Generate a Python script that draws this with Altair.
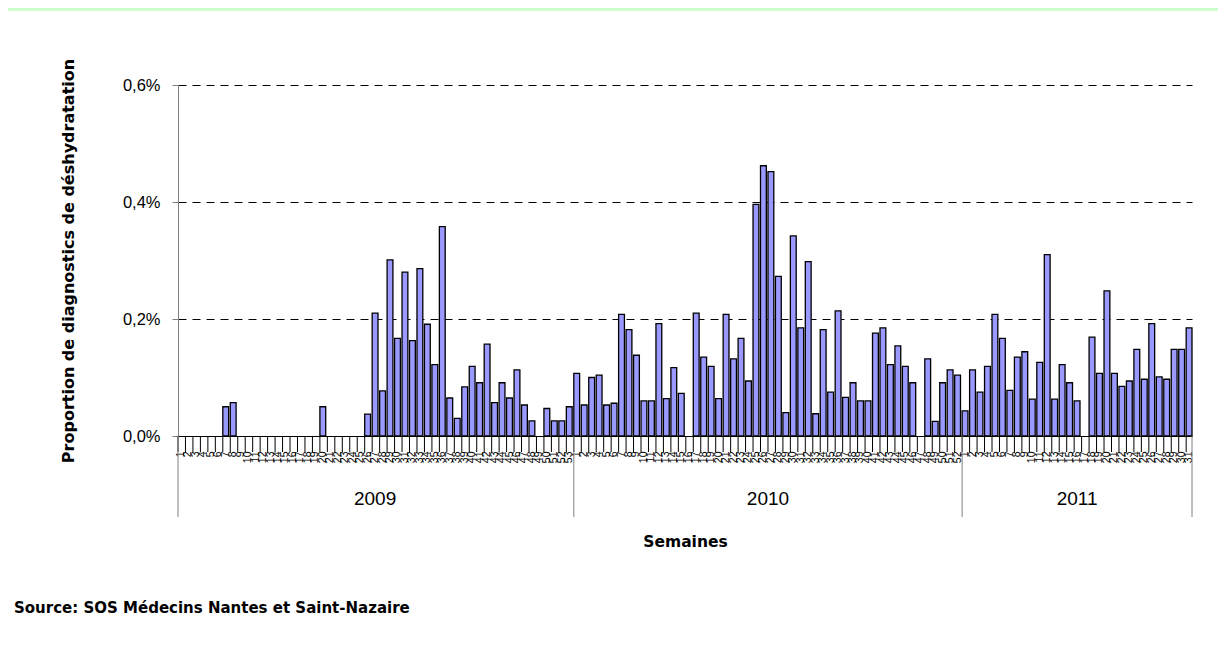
import altair as alt
import pandas as pd

years = ["2009", "2010", "2011"]

v2009 = [0, 0, 0, 0, 0, 0, 0.050, 0.057, 0, 0,
         0, 0, 0, 0, 0, 0, 0, 0, 0, 0.050,
         0, 0, 0, 0, 0, 0.0375, 0.210, 0.077, 0.301, 0.167,
         0.280, 0.163, 0.286, 0.191, 0.122, 0.358, 0.065, 0.030, 0.084, 0.119,
         0.091, 0.157, 0.057, 0.091, 0.065, 0.113, 0.053, 0.026, 0, 0.047,
         0.026, 0.026, 0.050]
v2010 = [0.107, 0.053, 0.100, 0.104, 0.053, 0.056, 0.208, 0.182, 0.138, 0.060,
         0.060, 0.192, 0.064, 0.117, 0.073, 0, 0.210, 0.135, 0.119, 0.064,
         0.208, 0.132, 0.167, 0.094, 0.396, 0.462, 0.452, 0.273, 0.040, 0.342,
         0.185, 0.298, 0.038, 0.182, 0.075, 0.214, 0.066, 0.091, 0.060, 0.060,
         0.176, 0.185, 0.122, 0.154, 0.119, 0.091, 0, 0.132, 0.025, 0.091,
         0.113, 0.104]
v2011 = [0.043, 0.113, 0.075, 0.119, 0.208, 0.167, 0.078, 0.135, 0.144, 0.063,
         0.126, 0.310, 0.063, 0.122, 0.091, 0.060, 0, 0.169, 0.107, 0.248,
         0.107, 0.085, 0.094, 0.148, 0.097, 0.192, 0.101, 0.097, 0.148, 0.148,
         0.185]

y_ticks = [0, 0.2, 0.4, 0.6]
y_title = "Proportion de diagnostics de déshydratation"
x_title = "Semaines"
source_text = "Source: SOS Médecins Nantes et Saint-Nazaire"

FONT = "Liberation Sans"
BOLD_FONT = "DejaVu Sans"
W, H = 1014, 351

rows = []
for yr, vals in zip(years, [v2009, v2010, v2011]):
    for w, v in enumerate(vals, start=1):
        rows.append({"key": f"{yr}-{w:02d}", "year": yr, "week": w, "value": v})
df = pd.DataFrame(rows)
keys = list(df["key"])

xscale = alt.Scale(domain=keys, paddingInner=0.22, paddingOuter=0)

bars = alt.Chart(df).transform_filter("datum.value > 0").mark_bar(
    fill="#9999FF", stroke="black", strokeWidth=1.3
).encode(
    x=alt.X("key:O", sort=keys, scale=xscale,
            axis=alt.Axis(
                title=x_title, titleFont=BOLD_FONT, titleFontSize=15.5, titleFontWeight="bold",
                titleColor="black", titleY=105, titleBaseline="middle",
                labelExpr="toNumber(slice(datum.label, 5))",
                labelAngle=270, labelFont=FONT, labelFontSize=10.5, labelColor="black",
                labelPadding=15, labelOverlap=False, labelBound=False, labelFlush=False,
                ticks=False, tickSize=0, domainColor="black", domainWidth=1)),
    y=alt.Y("value:Q", scale=alt.Scale(domain=[0, 0.6], nice=False),
            axis=alt.Axis(
                values=y_ticks, title=y_title, titleFont=BOLD_FONT, titleFontSize=16,
                titleFontWeight="bold", titleColor="black", titleAngle=270,
                titleX=-110, titleY=H / 2, titleAlign="center", titleBaseline="middle",
                labelExpr="replace(format(datum.value, '.1f'), '.', ',') + '%'",
                labelFont=FONT, labelFontSize=16.5, labelColor="black", labelPadding=12,
                tickSize=6, tickColor="#808080", domainColor="#808080",
                grid=True, gridColor="black", gridDash=[8, 6], gridWidth=1)),
)

# category boundary ticks below the axis
ticks = alt.Chart(df).mark_rule(color="black", strokeWidth=1).encode(
    x=alt.X("key:O", sort=keys, scale=xscale, bandPosition=0),
    y=alt.value(H), y2=alt.value(H + 16),
)

# year separators
starts = pd.DataFrame({"key": [df[df.year == yr]["key"].iloc[0] for yr in years]})
seps = alt.Chart(starts).mark_rule(color="#808080", strokeWidth=1).encode(
    x=alt.X("key:O", sort=keys, scale=xscale, bandPosition=0),
    y=alt.value(H), y2=alt.value(H + 81),
)
end = pd.DataFrame({"key": [keys[-1]]})
endsep = alt.Chart(end).mark_rule(color="#808080", strokeWidth=1).encode(
    x=alt.X("key:O", sort=keys, scale=xscale, bandPosition=1),
    y=alt.value(H), y2=alt.value(H + 81),
)

# thin green frame strip at the top of the picture
frame = alt.Chart(pd.DataFrame({"a": [0]})).mark_rect(color="#CCFFCC").encode(
    x=alt.value(-170), x2=alt.value(W + 26), y=alt.value(-77), y2=alt.value(-74)
)

layers = [frame, bars, ticks, seps, endsep]

# year labels centred under each group
offset = 0
for yr, vals in zip(years, [v2009, v2010, v2011]):
    n = len(vals)
    mid = offset + n / 2
    idx = int(mid)
    bp = mid - idx
    lab = pd.DataFrame({"key": [keys[idx]], "year": [yr]})
    layers.append(
        alt.Chart(lab).mark_text(font=FONT, fontSize=19, color="black",
                                 baseline="middle", align="center").encode(
            x=alt.X("key:O", sort=keys, scale=xscale, bandPosition=bp),
            y=alt.value(H + 63),
            text="year:N",
        )
    )
    offset += n

src = alt.Chart(pd.DataFrame({"t": [source_text]})).mark_text(
    font=BOLD_FONT, fontSize=15, fontWeight="bold", color="black", align="left", baseline="middle"
).encode(x=alt.value(-164), y=alt.value(523), text="t:N")
layers.append(src)

chart = alt.layer(*layers).properties(
    width=W, height=H,
    autosize=alt.AutoSizeParams(type="none"),
    padding={"left": 170, "top": 77, "right": 26, "bottom": 202},
    background="white",
).configure_view(strokeWidth=0)

chart.save("out.html", embed_options={"renderer": "svg", "actions": False})
